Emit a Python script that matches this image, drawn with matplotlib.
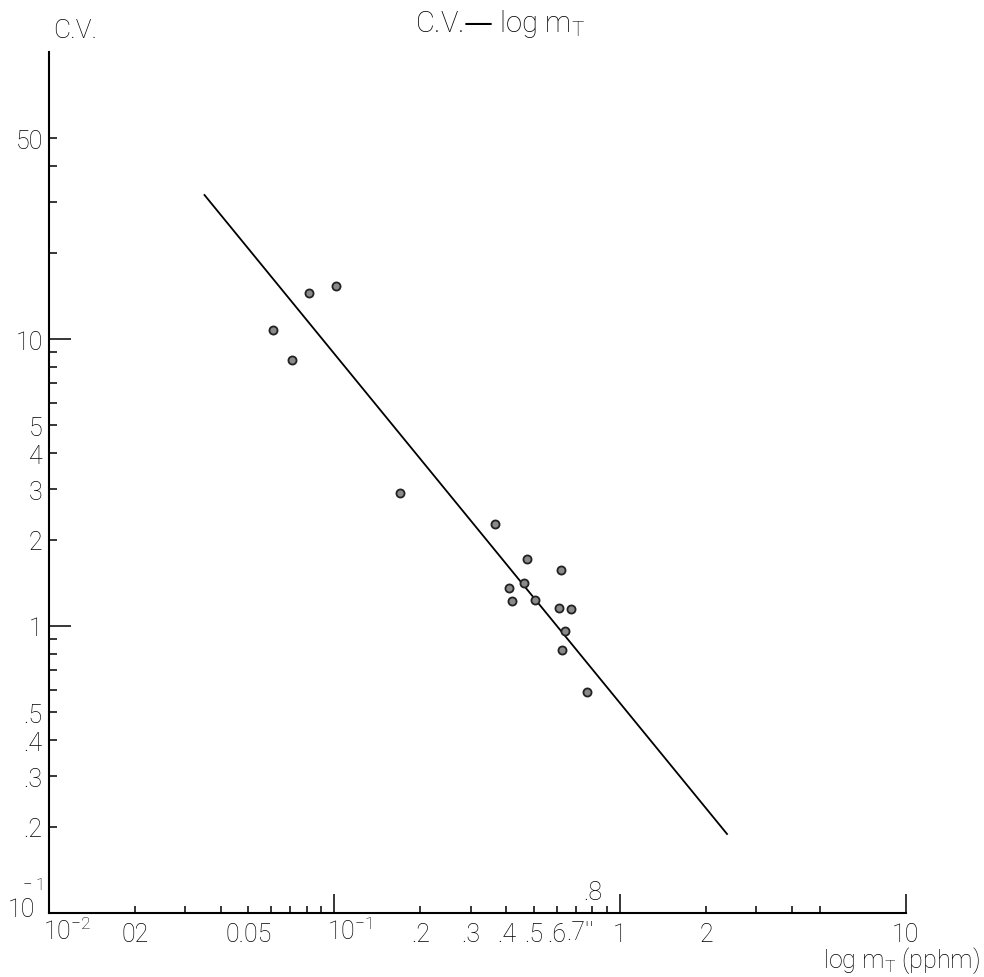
import matplotlib
matplotlib.use("Agg")
import matplotlib.pyplot as plt

plt.rcParams['font.family'] = ['Roboto', 'DejaVu Sans']
plt.rcParams['font.weight'] = 'light'
plt.rcParams['mathtext.default'] = 'regular'

# measured points (m_T in pphm, coefficient of variation)
m_t = [0.0611, 0.0711, 0.0817, 0.1017, 0.1693, 0.365, 0.4087, 0.4185, 0.461,
       0.472, 0.5035, 0.609, 0.622, 0.6255, 0.641, 0.676, 0.769]
cv = [10.72, 8.47, 14.43, 15.34, 2.914, 2.262, 1.36, 1.222, 1.409,
      1.716, 1.229, 1.152, 1.571, 0.825, 0.961, 1.149, 0.589]

# regression line end points
fit_mt = [0.0351, 2.369]
fit_cv = [31.75, 0.1885]

x_major = [0.1, 1, 10]
x_major_labels = ['', '1', '10']
x_minor = [0.02, 0.03, 0.04, 0.05, 0.06, 0.07, 0.08, 0.09,
           0.2, 0.3, 0.4, 0.5, 0.6, 0.7, 0.8, 0.9,
           2, 3, 4, 5]
x_minor_labels = ['02', '', '', '0.05', '', '', '', '',
                  '.2', '.3', '.4', '.5', '.6', '', '', '',
                  '2', '', '', '']

y_major = [1, 10]
y_major_labels = ['1', '10']
y_minor = [0.2, 0.3, 0.4, 0.5, 0.6, 0.7, 0.8, 0.9,
           2, 3, 4, 5, 6, 7, 8, 9,
           20, 30, 40, 50]
y_minor_labels = ['.2', '.3', '.4', '.5', '', '', '', '',
                  '2', '3', '4', '5', '', '', '', '',
                  '', '', '', '50']

W, H = 984, 978
fig = plt.figure(figsize=(W / 100, H / 100), dpi=100)
ax = fig.add_axes([48.7 / W, (H - 914) / H, (905.7 - 48.7) / W, (914 - 53) / H])

ax.plot(fit_mt, fit_cv, color='black', lw=1.3)
ax.scatter(m_t, cv, s=34, color='#8a8a8a', edgecolor='#222222', linewidth=1.3, zorder=3)

ax.set_xscale('log')
ax.set_yscale('log')
ax.set_xlim(0.01, 10)
ax.set_ylim(0.1, 100)

ax.spines['top'].set_visible(False)
ax.spines['right'].set_visible(False)
ax.spines['left'].set_linewidth(1.5)
ax.spines['bottom'].set_linewidth(1.5)

ax.set_xticks(x_major, labels=x_major_labels)
ax.set_xticks(x_minor, labels=x_minor_labels, minor=True)
ax.set_yticks(y_major, labels=y_major_labels)
ax.set_yticks(y_minor, labels=y_minor_labels, minor=True)

fs = 18
ax.tick_params(axis='x', which='major', direction='in', length=14, width=1.1, pad=6.5, labelsize=fs)
ax.tick_params(axis='x', which='minor', direction='in', length=5, width=1.1, pad=6.5, labelsize=fs)
ax.tick_params(axis='y', which='major', direction='in', length=16, width=1.1, pad=4.3, labelsize=fs)
ax.tick_params(axis='y', which='minor', direction='in', length=6, width=1.1, pad=4.3, labelsize=fs)

# odd labels of the original scan
xt = ax.get_xaxis_transform()
ax.text(0.00955, -0.0302, r'$10^{-2}$', transform=xt, ha='left', va='baseline', fontsize=fs, clip_on=False)
ax.text(0.0943, -0.0302, r'$10^{-1}$', transform=xt, ha='left', va='baseline', fontsize=fs, clip_on=False)
ax.text(0.648, -0.0302, ".7''", transform=xt, ha='left', va='baseline', fontsize=fs, clip_on=False)
ax.text(0.8, 0.0163, '.8', transform=xt, ha='center', va='baseline', fontsize=fs)
ax.text(-0.016, -0.0035, '10', transform=ax.transAxes, ha='right', va='baseline', fontsize=fs, clip_on=False)
ax.text(-0.0066, 0.0279, '$-$ 1', transform=ax.transAxes, ha='right', va='baseline', fontsize=12, clip_on=False)

fig.text(415 / W, 1 - 32 / H, r'C.V.— log m$_{T}$', ha='left', va='baseline', fontsize=21)
fig.text(53 / W, 1 - 38 / H, 'C.V.', ha='left', va='baseline', fontsize=19)
fig.text(980 / W, 1 - 968 / H, r'log m$_{T}$ (pphm)', ha='right', va='baseline', fontsize=18)

fig.savefig('out.png', dpi=100)
